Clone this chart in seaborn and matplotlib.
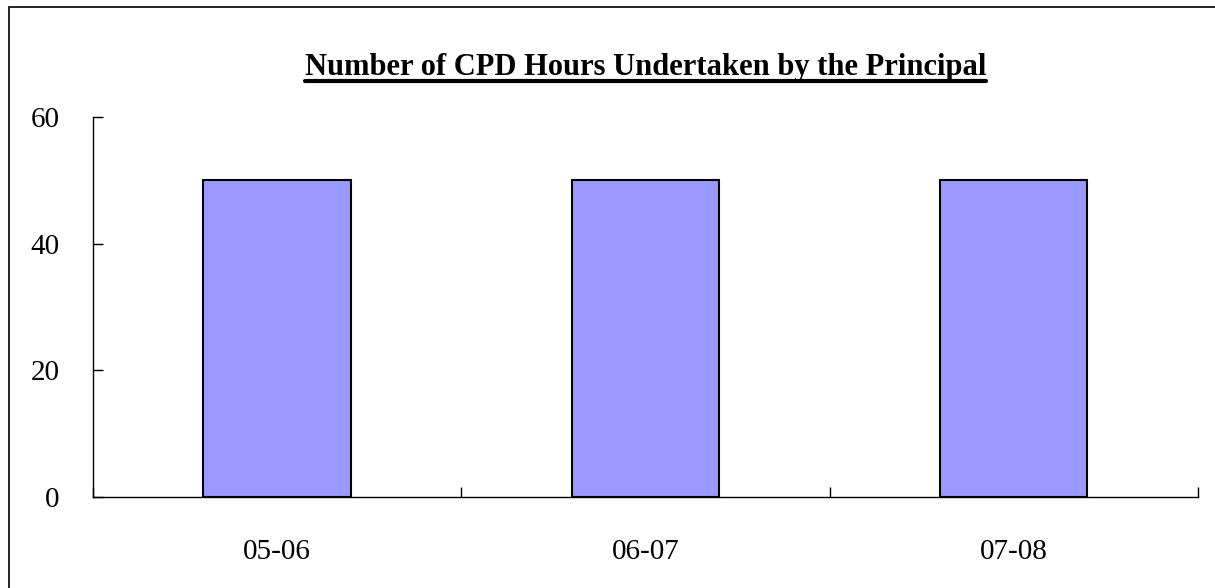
import pandas as pd
import matplotlib.pyplot as plt
from matplotlib.lines import Line2D
from matplotlib.patches import Rectangle
import seaborn as sns

# data
years = ['05-06', '06-07', '07-08']
hours = [50, 50, 50]
yticks = [0, 20, 40, 60]
title = 'Number of CPD Hours Undertaken by the Principal'


def main():
    df = pd.DataFrame({'year': years, 'hours': hours})

    sns.set_style('white')
    plt.rcParams['font.family'] = ['Liberation Serif', 'DejaVu Serif']
    plt.rcParams['text.color'] = 'black'
    plt.rcParams['xtick.color'] = 'black'
    plt.rcParams['ytick.color'] = 'black'

    fig = plt.figure(figsize=(12.15, 5.88), dpi=100)
    ax = fig.add_axes([0.0765, 0.1548, 0.9095, 0.6462])

    sns.barplot(data=df, x='year', y='hours', ax=ax, color='#9999FF',
                saturation=1, width=0.4, edgecolor='black', linewidth=1.5)

    ax.set_xlim(-0.5, 2.5)
    ax.set_ylim(0, 60)
    ax.set_yticks(yticks)
    ax.set_xlabel('')
    ax.set_ylabel('')

    for s in ['top', 'right']:
        ax.spines[s].set_visible(False)
    for s in ['left', 'bottom']:
        ax.spines[s].set_color('black')
        ax.spines[s].set_linewidth(1.0)

    # category boundary ticks, pointing up into the plot
    ax.set_xticks([-0.5, 0.5, 1.5, 2.5], minor=True)
    ax.tick_params(axis='x', which='major', bottom=True, length=0, pad=30, labelsize=21)
    ax.tick_params(axis='x', which='minor', bottom=True, direction='in',
                   length=7, width=1, color='black')
    ax.tick_params(axis='y', left=True, direction='in', length=7, width=1, color='black',
                   pad=24, labelsize=21)

    t = ax.set_title(title, fontsize=22, fontweight='bold', pad=30)

    # underline title
    fig.canvas.draw()
    bb = t.get_window_extent().transformed(fig.transFigure.inverted())
    fig.add_artist(Line2D([bb.x0, bb.x1], [bb.y0 + 0.002, bb.y0 + 0.002],
                          transform=fig.transFigure, color='black', linewidth=3))

    # outer border
    fig.add_artist(Rectangle((9 / 1215, -0.1), 1.2, 1 - 7 / 588 + 0.1,
                             transform=fig.transFigure, fill=False,
                             edgecolor='black', linewidth=1.2))

    fig.savefig('out.png', dpi=100)


if __name__ == '__main__':
    main()
